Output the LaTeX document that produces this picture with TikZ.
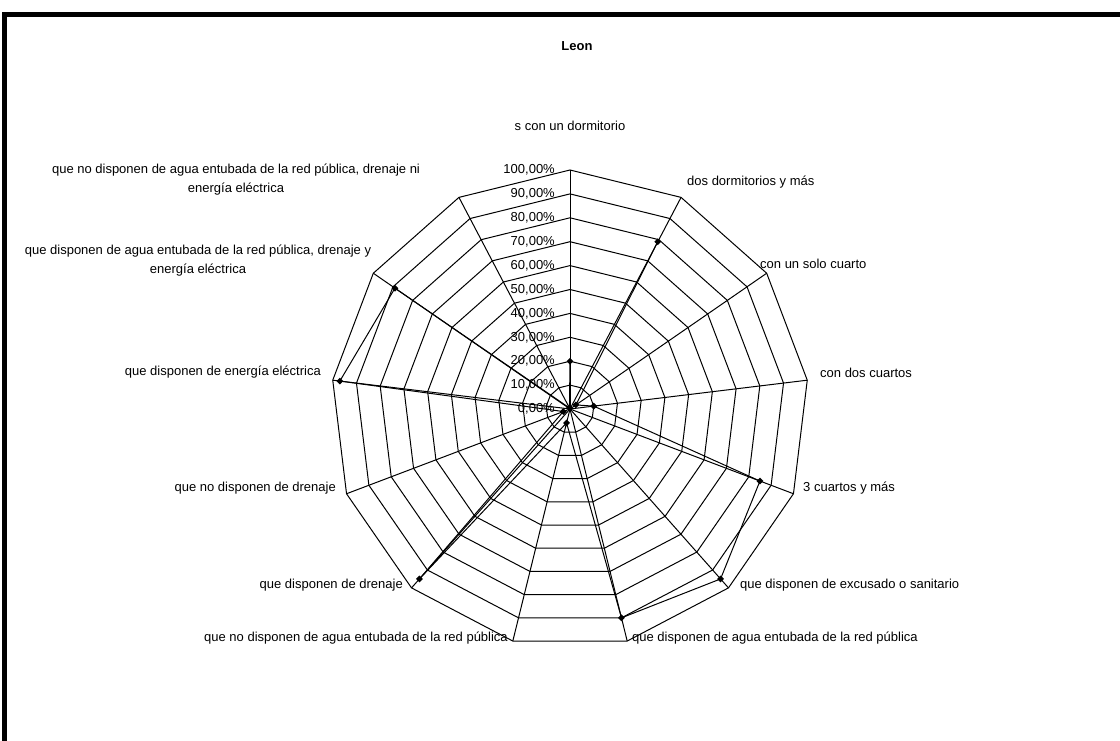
\documentclass[tikz,border=0pt]{standalone}
\usepackage{fontspec}
\setmainfont{Liberation Sans}
\usetikzlibrary{shapes.geometric}
\newcommand{\ang}[1]{90-#1*360/13}

\begin{document}
\begin{tikzpicture}[x=1pt, y=1pt, font=\fontsize{13}{19}\selectfont,
	grid/.style={black, line width=1pt},
	serie/.style={black, line width=1pt},
	mk/.style={diamond, fill=black, inner sep=0pt, minimum size=7pt},
	tick/.style={anchor=east, inner sep=0pt},
	lab/.style={inner sep=0pt, align=center}]
	\useasboundingbox (0,0) rectangle (1120,740);
	\draw[line width=4.5pt] (4.5,-5) |- (1125,725.5);
	\node[font=\fontsize{13}{15}\selectfont\bfseries] (title) at (577,694) {Leon};

	\begin{scope}[shift={(570,331)}]
	\coordinate (c) at (0,0);
	\foreach \i in {1,...,10}
		\draw[grid] (90:{\i*23.9}) \foreach \k in {1,...,12} { -- ({\ang{\k}}:{\i*23.9}) } -- cycle;
	\foreach \k in {0,...,12} {
		\coordinate (o\k) at ({\ang{\k}}:239);
		\draw[grid] (c) -- (o\k);
	}
	\foreach \i in {0,...,10} {
		\pgfmathtruncatemacro\p{\i*10}
		\node[tick] (t\i) at (-15, {\i*23.9}) {\p,00\%};
	}

	\foreach \k/\v in {0/20, 1/79, 2/3, 3/10, 4/85, 5/95, 6/90, 7/6, 8/95, 9/3, 10/97, 11/89, 12/0.5}
		\coordinate (d\k) at ({\ang{\k}}:{\v*2.39});
	\draw[serie] (d1) -- (d2) -- (d3) -- (d4) -- (d5) -- (d6) -- (d7) -- (d8) -- (d9) -- (d10) -- (d11) -- (d12) -- (d0);
	\foreach \k in {0,...,12}
		\node[mk] (m\k) at (d\k) {};
	\end{scope}

	\node[lab] (l0) at (570,614) {s con un dormitorio};
	\node[lab, anchor=west] (l1) at (687,558) {dos dormitorios y más};
	\node[lab, anchor=west] (l2) at (760,476) {con un solo cuarto};
	\node[lab, anchor=west] (l3) at (820,367) {con dos cuartos};
	\node[lab, anchor=west] (l4) at (803,252) {3 cuartos y más};
	\node[lab, anchor=west] (l5) at (740,155) {que disponen de excusado o sanitario};
	\node[lab, anchor=west] (l6) at (632,102) {que disponen de agua entubada de la red pública};
	\node[lab, anchor=east] (l7) at (508,102) {que no disponen de agua entubada de la red pública};
	\node[lab, anchor=east] (l8) at (403,155) {que disponen de drenaje};
	\node[lab, anchor=east] (l9) at (336,252) {que no disponen de drenaje};
	\node[lab, anchor=east] (l10) at (321,368) {que disponen de energía eléctrica};
	\node[lab] (l11) at (198,479) {que disponen de agua entubada de la red pública, drenaje y\\energía eléctrica};
	\node[lab] (l12) at (236,560) {que no disponen de agua entubada de la red pública, drenaje ni\\energía eléctrica};
\end{tikzpicture}
\end{document}
